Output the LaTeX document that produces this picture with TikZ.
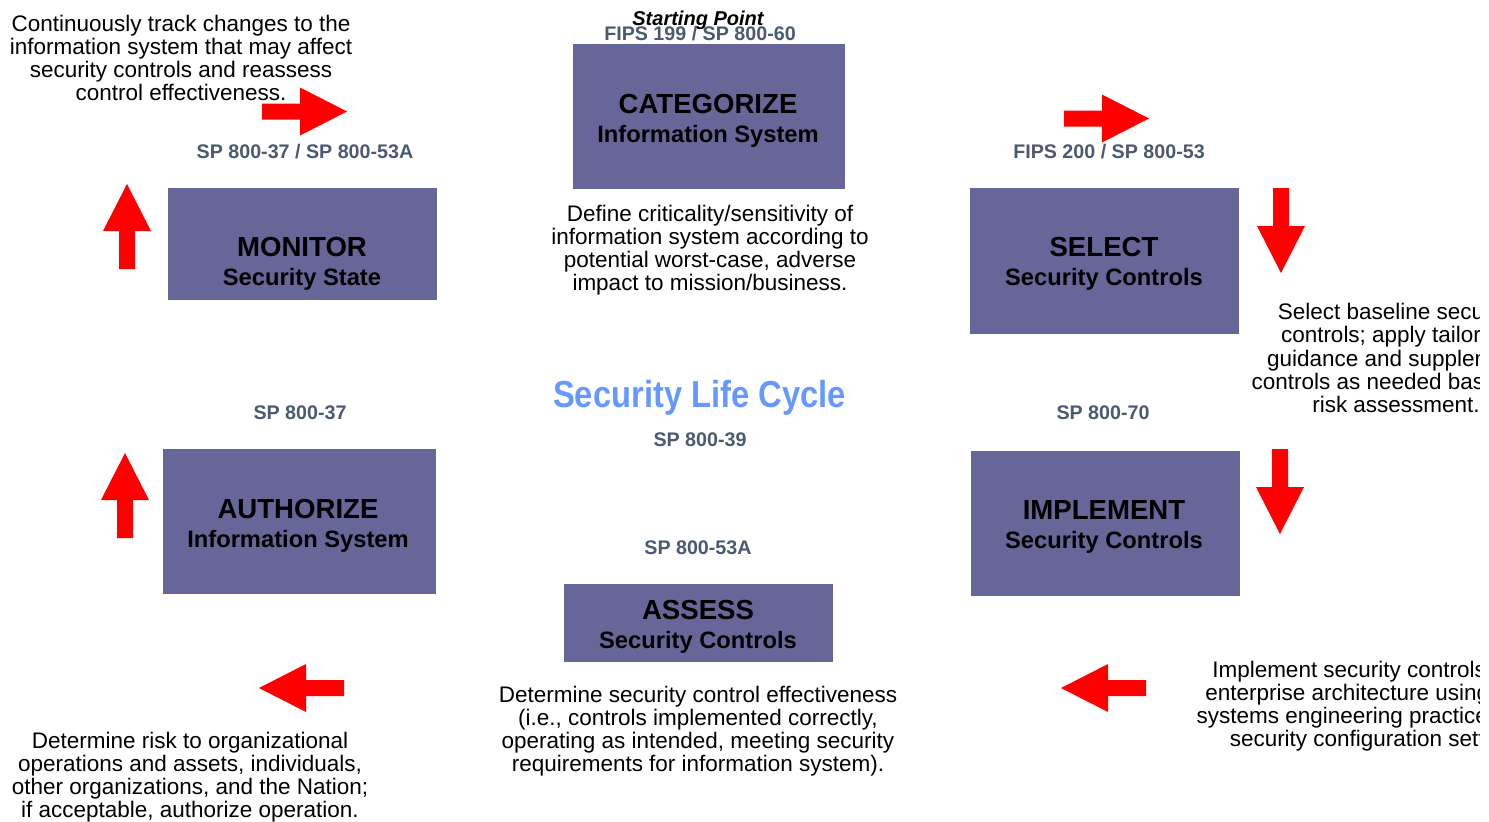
\documentclass[tikz,border=0pt]{standalone}
\usepackage{fontspec}
\setmainfont{Liberation Sans}
\usepackage{graphicx}
\usetikzlibrary{fit}

\definecolor{stagefill}{RGB}{102,102,153}
\definecolor{docgray}{RGB}{74,90,112}
\definecolor{cycleblue}{RGB}{102,153,255}

% step title on top, smaller subtitle below
\newcommand{\steplabel}[2]{{\fontsize{15.7}{16.6}\selectfont #1}\\ #2}

\begin{document}
\begin{tikzpicture}[x=0.02cm, y=-0.02cm, inner sep=0pt, outer sep=0pt,
    stage/.style={fill=stagefill},
    stagetext/.style={align=center, font=\fontsize{13.5}{16.6}\selectfont\bfseries},
    doc/.style={text=docgray, font=\fontsize{11.2}{13}\selectfont\bfseries},
    desc/.style={align=center, font=\fontsize{12.8}{13.2}\selectfont},
    redarrow/.pic={\fill[red] (0,-8) -- (38,-8) -- (38,-24) -- (85,0)
        -- (38,24) -- (38,8) -- (0,8) -- cycle;}]
    \useasboundingbox (0,0) rectangle (1489,822);
    \clip (0,0) rectangle (1479,822);

    % categorize
    \node[stage, fit={(573,44) (845,189)}] (categorize) {};
    \node[stagetext] (categorize_txt) at (708,121)
    {\steplabel{CATEGORIZE}{Information System}};
    \node[font=\fontsize{11.4}{13}\selectfont\bfseries\itshape] (start) at (698,20)
    {Starting Point};
    \node[doc] (categorize_doc) at (700,34) {FIPS 199 / SP 800-60};
    \node[desc] (categorize_desc) at (710,250)
    {Define criticality/sensitivity of \\ information system according to \\
     potential worst-case, adverse \\ impact to mission/business.};

    % select
    \node[stage, fit={(970,188) (1239,334)}] (select) {};
    \node[stagetext] (select_txt) at (1104,264)
    {\steplabel{SELECT}{Security Controls}};
    \node[doc] (select_doc) at (1109,152) {FIPS 200 / SP 800-53};
    \node[desc] (select_desc) at (1396,358)
    {Select baseline security \\ controls; apply tailoring \\ guidance and supplement \\
     controls as needed based on \\ risk assessment.};

    % implement
    \node[stage, fit={(971,451) (1240,596)}] (implement) {};
    \node[stagetext] (implement_txt) at (1104,527)
    {\steplabel{IMPLEMENT}{Security Controls}};
    \node[doc] (implement_doc) at (1103,413) {SP 800-70};
    \node[desc] (implement_desc) at (1381,706)
    {Implement security controls within \\ enterprise architecture using sound \\
     systems engineering practices; apply \\ security configuration settings.};

    % assess
    \node[stage, fit={(564,584) (833,662)}] (assess) {};
    \node[stagetext] (assess_txt) at (698,627)
    {\steplabel{ASSESS}{Security Controls}};
    \node[doc] (assess_doc) at (698,548) {SP 800-53A};
    \node[desc] (assess_desc) at (698,731)
    {Determine security control effectiveness \\ (i.e., controls implemented correctly, \\
     operating as intended, meeting security \\ requirements for information system).};

    % authorize
    \node[stage, fit={(163,449) (436,594)}] (authorize) {};
    \node[stagetext] (authorize_txt) at (298,526)
    {\steplabel{AUTHORIZE}{Information System}};
    \node[doc] (authorize_doc) at (300,413) {SP 800-37};
    \node[desc] (authorize_desc) at (190,777)
    {Determine risk to organizational \\ operations and assets, individuals, \\
     other organizations, and the Nation; \\ if acceptable, authorize operation.};

    % monitor
    \node[stage, fit={(168,188) (437,300)}] (monitor) {};
    \node[stagetext] (monitor_txt) at (302,264)
    {\steplabel{MONITOR}{Security State}};
    \node[doc] (monitor_doc) at (305,152) {SP 800-37 / SP 800-53A};
    \node[desc] (monitor_desc) at (181,58)
    {Continuously track changes to the \\ information system that may affect \\
     security controls and reassess \\ control effectiveness.};

    % centre
    \node[text=cycleblue] (cycle) at (699.5,398)
    {\scalebox{0.87}[1]{\fontsize{21.4}{24}\selectfont\bfseries Security Life Cycle}};
    \node[doc] (cycle_doc) at (700,440) {SP 800-39};

    % red arrows round the cycle
    \pic at (262,111.5) {redarrow};
    \pic at (1064,118.5) {redarrow};
    \pic[rotate=-90] at (1281,188) {redarrow};
    \pic[rotate=-90] at (1280,449) {redarrow};
    \pic[rotate=180] at (1146,688) {redarrow};
    \pic[rotate=180] at (344,688) {redarrow};
    \pic[rotate=90] at (125,538) {redarrow};
    \pic[rotate=90] at (127,269) {redarrow};

\end{tikzpicture}
\end{document}
